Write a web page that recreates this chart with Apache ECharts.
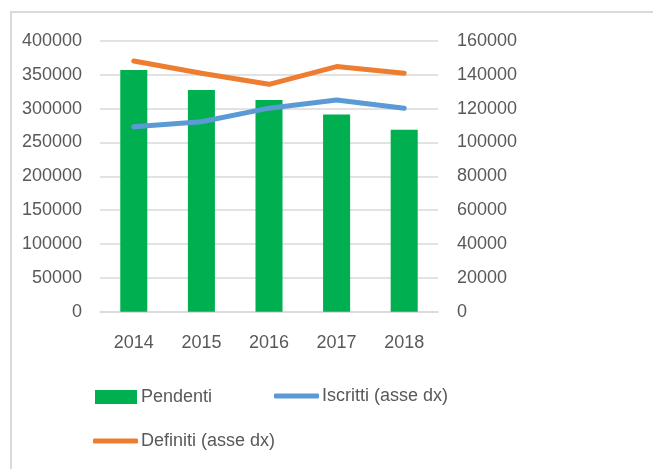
<!DOCTYPE html>
<html><head><meta charset="utf-8">
<script src="https://cdn.jsdelivr.net/npm/echarts@6/dist/echarts.min.js"></script>
<style>
html,body{margin:0;padding:0;background:#fff;}
#frame{position:absolute;left:10px;top:11px;width:700px;height:500px;border:2px solid #d9d9d9;box-sizing:border-box;}
#c{position:absolute;left:0;top:0;width:653px;height:469px;}
</style></head>
<body><div id="frame"></div><div id="c"></div>
<script>
const categories = ['2014','2015','2016','2017','2018'];
const pendenti = [357000, 327500, 312800, 291500, 269000];
const iscritti = [109300, 112300, 120300, 125100, 120300];
const definiti = [148200, 140900, 134400, 144900, 141000];
const leftTicks = {min:0, max:400000, interval:50000};
const rightTicks = {min:0, max:160000, interval:20000};

const font = 'Liberation Sans';
const txt = '#595959';
const fmt = v => String(v);
const chart = echarts.init(document.getElementById('c'), null, {renderer:'canvas'});
chart.setOption({
  animation:false,
  grid:{left:100, right:215, top:41, bottom:157.3},
  xAxis:{type:'category', data:categories,
    axisLine:{lineStyle:{color:'#d9d9d9', width:1.5}}, axisTick:{show:false},
    axisLabel:{color:txt, fontFamily:font, fontSize:18, margin:22}},
  yAxis:[
    {type:'value', min:leftTicks.min, max:leftTicks.max, interval:leftTicks.interval,
     axisLabel:{color:txt, fontFamily:font, fontSize:18, margin:18, formatter:fmt},
     splitLine:{lineStyle:{color:'#d9d9d9', width:1.5}}, axisLine:{show:false}},
    {type:'value', min:rightTicks.min, max:rightTicks.max, interval:rightTicks.interval,
     axisLabel:{color:txt, fontFamily:font, fontSize:18, margin:19, formatter:fmt},
     splitLine:{show:false}, axisLine:{show:false}}
  ],
  legend:[
    {data:[{name:'Pendenti', icon:'rect'}], left:95, top:388, itemWidth:42, itemHeight:14, itemGap:4,
     textStyle:{color:txt, fontFamily:font, fontSize:18, padding:[0,0,0,-1]}, padding:0},
    {data:[{name:'Iscritti (asse dx)', icon:'roundRect'}], left:274, top:387, itemWidth:45, itemHeight:5,
     itemStyle:{color:'#5B9BD5'},
     textStyle:{color:txt, fontFamily:font, fontSize:18, padding:[0,0,0,-2]}, padding:0},
    {data:[{name:'Definiti (asse dx)', icon:'roundRect'}], left:93, top:432, itemWidth:45, itemHeight:5,
     itemStyle:{color:'#ED7D31'},
     textStyle:{color:txt, fontFamily:font, fontSize:18, padding:[0,0,0,-2]}, padding:0}
  ],
  series:[
    {name:'Pendenti', type:'bar', data:pendenti, barWidth:'40%', itemStyle:{color:'#00B050'}},
    {name:'Iscritti (asse dx)', type:'line', yAxisIndex:1, data:iscritti, symbol:'none',
     lineStyle:{color:'#5B9BD5', width:5, cap:'round', join:'round'}, itemStyle:{color:'#5B9BD5'}},
    {name:'Definiti (asse dx)', type:'line', yAxisIndex:1, data:definiti, symbol:'none',
     lineStyle:{color:'#ED7D31', width:5, cap:'round', join:'round'}, itemStyle:{color:'#ED7D31'}}
  ]
});
</script></body></html>
